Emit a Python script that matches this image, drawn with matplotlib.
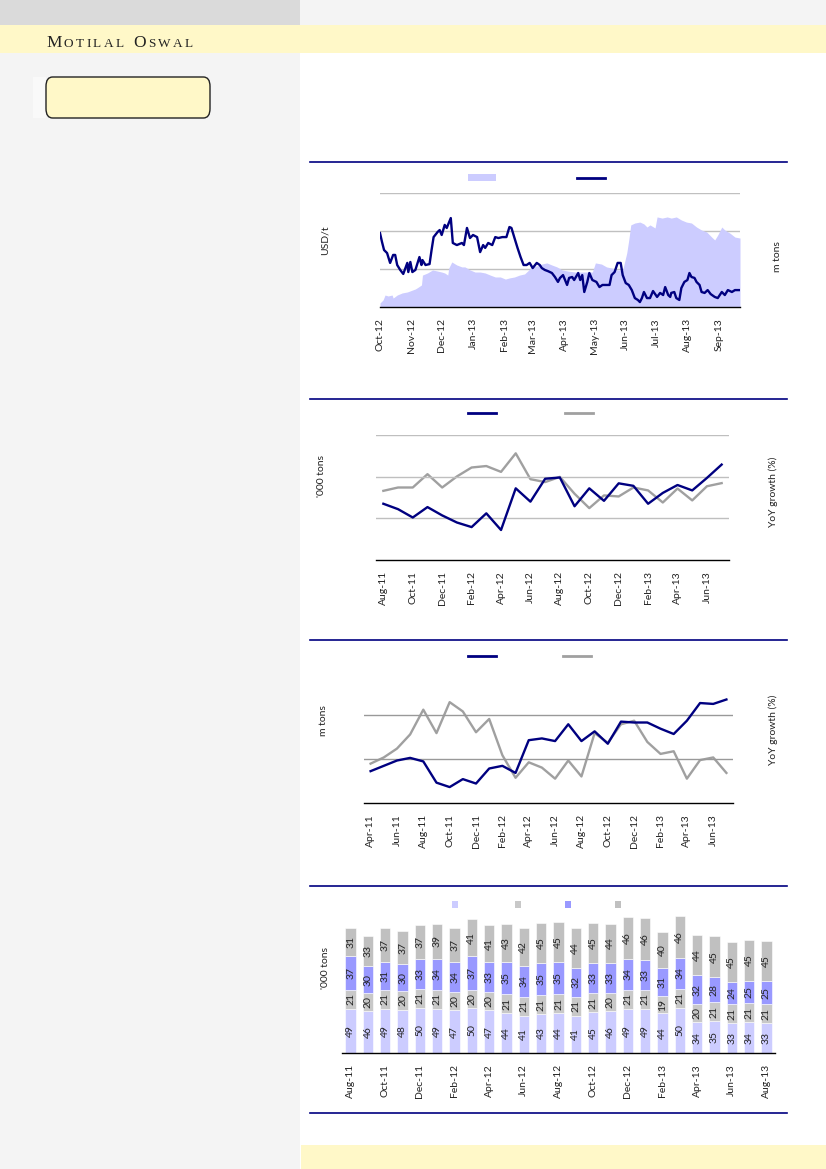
import pandas as pd
import matplotlib
matplotlib.use('agg')
import matplotlib.pyplot as plt
import matplotlib.dates as mdates
from matplotlib.patches import Rectangle, FancyBboxPatch, Patch
from matplotlib.lines import Line2D

plt.rcParams['font.family'] = ['Lato', 'DejaVu Sans']

W, H = 826, 1169
NAVY = '#000080'
GREY = '#a0a0a0'
LAV = '#ccccff'
TXT = '#222222'

# ---- chart 1: price (USD/t) and stocks (m tons), days counted from 1-Oct-12
price_day = [0, 2, 4, 7, 10, 13, 15, 17, 20, 23, 27, 28, 30, 32, 35, 39, 41, 42, 45, 49,
             51, 53, 57, 59, 61, 64, 66, 68, 70, 72, 76, 81, 83, 86, 89, 92, 96, 99, 102, 104,
             107, 111, 114, 117, 121, 125, 128, 130, 133, 136, 139, 142, 145, 148, 151, 155, 158, 160, 163, 166,
             170, 173, 176, 178, 181, 185, 187, 190, 192, 196, 198, 200, 202, 205, 207, 210, 214, 217, 220, 224,
             227, 229, 232, 235, 238, 240, 243, 246, 249, 252, 255, 257, 259, 261, 264, 267, 270, 274, 277, 280,
             282, 285, 287, 288, 291, 293, 296, 298, 301, 304, 306, 308, 311, 313, 316, 318, 321, 324, 327, 331,
             334, 338, 341, 344, 348, 351, 356]
price_val = [2089, 2042, 2000, 1984, 1932, 1974, 1974, 1921, 1895, 1874, 1932, 1884, 1937, 1884, 1895, 1963, 1921, 1947, 1921, 1926,
             2000, 2068, 2095, 2105, 2079, 2132, 2116, 2142, 2168, 2037, 2026, 2037, 2026, 2116, 2063, 2079, 2068, 1989, 2026, 2011,
             2037, 2026, 2068, 2063, 2068, 2068, 2121, 2116, 2063, 2011, 1963, 1921, 1921, 1932, 1905, 1932, 1921, 1905, 1895, 1889,
             1879, 1858, 1832, 1853, 1868, 1816, 1853, 1858, 1842, 1879, 1842, 1868, 1779, 1832, 1879, 1842, 1832, 1805, 1816, 1816,
             1816, 1868, 1884, 1932, 1932, 1868, 1826, 1816, 1789, 1747, 1737, 1726, 1747, 1779, 1747, 1747, 1784, 1753, 1774, 1763,
             1805, 1763, 1753, 1774, 1779, 1747, 1737, 1800, 1832, 1842, 1879, 1858, 1853, 1832, 1816, 1779, 1774, 1789, 1768, 1753,
             1747, 1779, 1763, 1789, 1779, 1789, 1789]
stock_day = [0, 3, 5, 8, 12, 13, 17, 22, 27, 32, 35, 38, 41, 42, 47, 52, 57, 61, 64, 67,
             68, 71, 76, 81, 84, 89, 94, 99, 104, 109, 114, 119, 124, 128, 133, 138, 143, 146, 150, 155,
             160, 165, 170, 175, 180, 186, 193, 200, 206, 210, 213, 219, 224, 229, 235, 240, 244, 246, 248, 252,
             257, 261, 264, 267, 272, 274, 279, 284, 288, 293, 298, 303, 308, 313, 318, 323, 328, 331, 334, 338,
             341, 346, 351, 356]
stock_val = [0.21, 0.37, 0.63, 0.58, 0.63, 0.47, 0.63, 0.74, 0.79, 0.89, 0.95, 1.05, 1.16, 1.68, 1.79, 1.95, 1.89, 1.84, 1.79, 1.68,
             2.05, 2.37, 2.21, 2.11, 2.11, 1.95, 1.84, 1.84, 1.79, 1.68, 1.58, 1.58, 1.47, 1.53, 1.58, 1.68, 1.74, 1.89, 2.11, 2.16,
             2.26, 2.32, 2.21, 2.11, 1.95, 1.89, 1.84, 1.84, 1.84, 1.84, 2.32, 2.26, 2.11, 2.05, 1.95, 1.95, 2.84, 3.53, 4.32, 4.42,
             4.47, 4.37, 4.21, 4.32, 4.16, 4.74, 4.68, 4.74, 4.68, 4.74, 4.58, 4.47, 4.42, 4.21, 4.05, 3.95, 3.68, 3.53, 3.79, 4.21,
             4.05, 3.89, 3.68, 3.63]

# ---- chart 2: monthly volume ('000 tons) and YoY growth (%)
c2_cats = ['Aug-11', 'Sep-11', 'Oct-11', 'Nov-11', 'Dec-11', 'Jan-12', 'Feb-12', 'Mar-12', 'Apr-12', 'May-12',
           'Jun-12', 'Jul-12', 'Aug-12', 'Sep-12', 'Oct-12', 'Nov-12', 'Dec-12', 'Jan-13', 'Feb-13', 'Mar-13',
           'Apr-13', 'May-13', 'Jun-13', 'Jul-13']
c2_vol = [135, 122, 102, 127, 107, 90, 79, 112, 72, 172, 140, 195, 198, 129, 172, 142, 184, 178, 135, 161,
          180, 167, 197, 229]
c2_yoy = [13.2, 14.8, 14.8, 21.2, 14.8, 20.1, 24.4, 25.1, 22.3, 31.2, 18.8, 17.4, 19.9, 11.8, 4.9, 11.0, 10.5, 14.8, 13.4, 7.6,
          14.3, 8.6, 15.4, 16.9]

# ---- chart 3: monthly volume (m tons) and YoY growth (%)
c3_cats = ['Apr-11', 'May-11', 'Jun-11', 'Jul-11', 'Aug-11', 'Sep-11', 'Oct-11', 'Nov-11', 'Dec-11', 'Jan-12',
           'Feb-12', 'Mar-12', 'Apr-12', 'May-12', 'Jun-12', 'Jul-12', 'Aug-12', 'Sep-12', 'Oct-12', 'Nov-12',
           'Dec-12', 'Jan-13', 'Feb-13', 'Mar-13', 'Apr-13', 'May-13', 'Jun-13', 'Jul-13']
c3_vol = [33.6, 34.2, 34.8, 35.1, 34.7, 32.3, 31.8, 32.7, 32.2, 33.9, 34.2, 33.4, 37.1, 37.3, 37.0, 38.9, 37.0, 38.1, 36.7, 39.2,
          39.1, 39.1, 38.4, 37.8, 39.3, 41.3, 41.2, 41.7]
c3_yoy = [-1.1, 0.3, 2.3, 5.5, 11.1, 5.8, 12.8, 10.7, 6.0, 9.0, 0.8, -4.3, -0.8, -2.0, -4.5, -0.4, -4.0, 5.8, 3.6, 7.8,
          8.6, 3.8, 1.1, 1.7, -4.5, -0.3, 0.3, -3.2]

# ---- chart 4: stacked monthly volumes ('000 tons)
c4_cats = c2_cats + ['Aug-13']
c4_s1 = [49, 46, 49, 48, 50, 49, 47, 50, 47, 44, 41, 43, 44, 41, 45, 46, 49, 49, 44, 50, 34, 35, 33, 34, 33]
c4_s2 = [21, 20, 21, 20, 21, 21, 20, 20, 20, 21, 21, 21, 21, 21, 21, 20, 21, 21, 19, 21, 20, 21, 21, 21, 21]
c4_s3 = [37, 30, 31, 30, 33, 34, 34, 37, 33, 35, 34, 35, 35, 32, 33, 33, 34, 33, 31, 34, 32, 28, 24, 25, 25]
c4_s4 = [31, 33, 37, 37, 37, 39, 37, 41, 41, 43, 42, 45, 45, 44, 45, 44, 46, 46, 40, 46, 44, 45, 45, 45, 45]
c4_colors = ['#ccccff', '#c8c8c8', '#9999ff', '#c0c0c0']

fig = plt.figure(figsize=(W / 100, H / 100), dpi=100)
fig.patch.set_facecolor('white')
renderer = fig.canvas.get_renderer()


def fbox(x0, y0, x1, y1, color, z=0):
    fig.add_artist(Rectangle((x0 / W, 1 - y1 / H), (x1 - x0) / W, (y1 - y0) / H,
                             transform=fig.transFigure, facecolor=color, edgecolor='none', zorder=z))


def px_axes(x0, y0, x1, y1):
    return fig.add_axes([x0 / W, 1 - y1 / H, (x1 - x0) / W, (y1 - y0) / H])


def style(ax):
    ax.set_facecolor('none')
    for s in ['top', 'left', 'right']:
        ax.spines[s].set_visible(False)
    ax.spines['bottom'].set_color('black')
    ax.spines['bottom'].set_linewidth(1.0)
    ax.tick_params(axis='y', length=0, labelleft=False, labelright=False)
    ax.tick_params(axis='x', length=0, pad=8, labelrotation=90, labelsize=7.5, colors=TXT)


def twin_style(ax):
    for s in ['top', 'left', 'right', 'bottom']:
        ax.spines[s].set_visible(False)
    ax.tick_params(axis='y', length=0, labelleft=False, labelright=False)


def vlabel(x, y, s):
    fig.text(x / W, 1 - y / H, s, rotation=90, ha='center', va='center', fontsize=7.5, color=TXT)


def key(handle, cx, cy, hl, hh=0.7):
    fig.legend([handle], [''], loc='center', bbox_to_anchor=(cx / W, 1 - cy / H), frameon=False,
               handlelength=hl, handleheight=hh, handletextpad=0, borderpad=0, borderaxespad=0, fontsize=7.5)


def hline(y):
    fig.add_artist(Line2D([310 / W, 787 / W], [1 - y / H, 1 - y / H], color=NAVY, lw=1.2))


# page background
fbox(0, 0, 300, H, '#f4f4f4')
fbox(0, 0, 300, 25, '#dadada')
fbox(300, 0, W, 25, '#f4f4f4')
fbox(0, 25, W, 53, '#fff8c8')
fbox(301, 1145, W, H, '#fff8c8')
fbox(33, 77, 46, 118, '#f9f9f9')
fig.add_artist(FancyBboxPatch((46 / W, 1 - 118 / H), 164 / W, 41 / H, boxstyle='round,pad=0,rounding_size=0.008',
                              transform=fig.transFigure, facecolor='#fff8c8', edgecolor='#222222', lw=1.0))

# small-caps masthead, letter by letter with tracking
xpos = 46
for word_i, word in enumerate(['MOTILAL', 'OSWAL']):
    if word_i:
        xpos += 7
    for j, ch in enumerate(word):
        fs = 12.5 if j == 0 else 9.5
        t = fig.text(xpos / W, 1 - 47 / H, ch, fontsize=fs, family=['Liberation Serif', 'DejaVu Serif'],
                     color=TXT, ha='left', va='baseline')
        xpos += t.get_window_extent(renderer).width + 2.4

# ---- chart 1
hline(162)
ax1 = px_axes(380, 193, 740, 307)
ax1r = ax1.twinx()
t0 = pd.Timestamp('2012-10-01')
price_dates = t0 + pd.to_timedelta(price_day, unit='D')
stock_dates = t0 + pd.to_timedelta(stock_day, unit='D')
ax1r.fill_between(stock_dates, stock_val, 0, color=LAV, lw=0, zorder=2)
ax1r.set_ylim(0, 6)
ax1r.set_yticks([2, 4, 6])
ax1r.yaxis.grid(True, color='#c0c0c0', lw=1.0)
ax1r.set_axisbelow(True)
ax1.plot(price_dates, price_val, color=NAVY, lw=1.7, zorder=3)
ax1.set_ylim(1700, 2300)
ax1.set_xlim(t0, t0 + pd.Timedelta(days=356))
ax1.xaxis.set_major_locator(mdates.MonthLocator())
ax1.xaxis.set_major_formatter(mdates.DateFormatter('%b-%y'))
ax1.set_zorder(ax1r.get_zorder() + 1)
style(ax1)
twin_style(ax1r)
vlabel(325, 240, 'USD/t')
vlabel(777, 257, 'm tons')
key(Patch(facecolor=LAV, edgecolor='none'), 482, 179, 2.6, 0.65)
key(Line2D([], [], color=NAVY, lw=2), 591, 179, 2.7)

# ---- chart 2
hline(399)
ax2 = px_axes(376, 435, 729, 560)
ax2r = ax2.twinx()
x2 = range(len(c2_cats))
ax2.plot(x2, c2_vol, color=NAVY, lw=1.7, zorder=3)
ax2r.plot(x2, c2_yoy, color=GREY, lw=1.7, zorder=2)
ax2.set_ylim(0, 300)
ax2.set_yticks([100, 200, 300])
ax2.yaxis.grid(True, color='#bfbfbf', lw=1.0)
ax2r.set_ylim(-20, 40)
ax2.set_xlim(-0.5, len(c2_cats) - 0.5)
ax2.set_xticks(list(x2)[::2])
ax2.set_xticklabels(c2_cats[::2])
ax2.set_zorder(ax2r.get_zorder() + 1)
ax2.patch.set_visible(False)
style(ax2)
twin_style(ax2r)
vlabel(322, 476, "'000 tons")
vlabel(773, 492, 'YoY growth (%)')
key(Line2D([], [], color=NAVY, lw=2), 482, 414, 2.7)
key(Line2D([], [], color=GREY, lw=2), 579, 414, 2.7)

# ---- chart 3
hline(640)
ax3 = px_axes(364, 688, 733, 803)
ax3r = ax3.twinx()
x3 = range(len(c3_cats))
ax3.plot(x3, c3_vol, color=NAVY, lw=1.7, zorder=3)
ax3r.plot(x3, c3_yoy, color=GREY, lw=1.7, zorder=2)
ax3.set_ylim(30, 43)
ax3.set_yticks([35, 40])
ax3.yaxis.grid(True, color='#999999', lw=1.0)
ax3r.set_ylim(-10, 16)
ax3.set_xlim(-0.5, len(c3_cats) - 0.5)
ax3.set_xticks(list(x3)[::2])
ax3.set_xticklabels(c3_cats[::2])
ax3.set_zorder(ax3r.get_zorder() + 1)
ax3.patch.set_visible(False)
style(ax3)
twin_style(ax3r)
vlabel(323, 721, 'm tons')
vlabel(773, 730, 'YoY growth (%)')
key(Line2D([], [], color=NAVY, lw=2), 482, 657, 2.7)
key(Line2D([], [], color=GREY, lw=2), 577, 657, 2.7)

# ---- chart 4
hline(886)
ax4 = px_axes(342, 900, 775, 1053)
x4 = range(len(c4_cats))
bottom = [0] * len(c4_cats)
for series, col in zip([c4_s1, c4_s2, c4_s3, c4_s4], c4_colors):
    ax4.bar(x4, series, 0.6, bottom=bottom, color=col, edgecolor='white', lw=0.4)
    for i, v in enumerate(series):
        ax4.text(i, bottom[i] + v / 2, str(v), rotation=90, ha='center', va='center', fontsize=7.5, color=TXT)
    bottom = [b + v for b, v in zip(bottom, series)]
ax4.set_ylim(0, 169)
ax4.set_xlim(-0.5, len(c4_cats) - 0.5)
ax4.set_xticks(list(x4)[::2])
ax4.set_xticklabels(c4_cats[::2])
style(ax4)
vlabel(325, 968, "'000 tons")
for cx, col in zip([455, 518, 568, 618], c4_colors):
    key(Patch(facecolor=col, edgecolor='none'), cx, 906, 0.65, 0.65)
hline(1113)

fig.savefig('out.png', dpi=100)
